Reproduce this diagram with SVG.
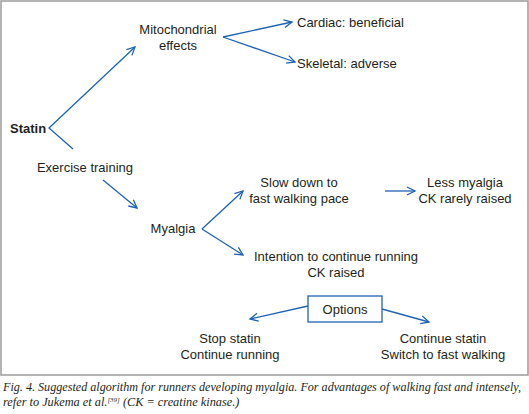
<svg xmlns="http://www.w3.org/2000/svg" width="529" height="414" viewBox="0 0 529 414">
<style>
.t{font-family:"Liberation Sans",Arial,sans-serif;font-size:13px;fill:#231f20;text-anchor:middle}
.l{text-anchor:start}
.b{font-weight:bold}
.c{stroke:#1f63b5;stroke-width:1.3;fill:none}
.cap{font-family:"Liberation Serif","Times New Roman",serif;font-style:italic;font-size:12.3px;fill:#231f20}
</style>
<defs>
<marker id="a" markerUnits="userSpaceOnUse" markerWidth="12" markerHeight="12" refX="9" refY="5" orient="auto">
<path d="M1,1 L9,5 L1,9" fill="none" stroke="#1f63b5" stroke-width="1.3"/>
</marker>
</defs>
<rect x="1" y="1" width="527" height="374" fill="#fff" stroke="#9a9a9a" stroke-width="1.5"/>
<g id="connectors" class="c">
<path d="M73,149 L49,128 L135,47" marker-end="url(#a)"/>
<path d="M223,37 L292,22" marker-end="url(#a)"/>
<path d="M223,37 L295,62" marker-end="url(#a)"/>
<path d="M103,180 L137,208" marker-end="url(#a)"/>
<path d="M202,229 L243,191" marker-end="url(#a)"/>
<path d="M202,229 L243,255" marker-end="url(#a)"/>
<path d="M385,191 L415,191" marker-end="url(#a)"/>
<path d="M308,306 L250,319" marker-end="url(#a)"/>
<path d="M382,309 L429,322" marker-end="url(#a)"/>
</g>
<g id="statin"><text class="t l b" x="10" y="133">Statin</text></g>
<g id="mito"><text class="t" x="178" y="34">Mitochondrial</text><text class="t" x="178" y="50">effects</text></g>
<g id="cardiac"><text class="t l" x="297" y="27">Cardiac: beneficial</text></g>
<g id="skeletal"><text class="t l" x="297" y="68">Skeletal: adverse</text></g>
<g id="exercise"><text class="t" x="85" y="172">Exercise training</text></g>
<g id="myalgia"><text class="t" x="173" y="233">Myalgia</text></g>
<g id="slow"><text class="t" x="299" y="187">Slow down to</text><text class="t" x="299" y="203">fast walking pace</text></g>
<g id="less"><text class="t" x="465" y="187">Less myalgia</text><text class="t" x="465" y="203">CK rarely raised</text></g>
<g id="intention"><text class="t" x="336" y="261">Intention to continue running</text><text class="t" x="336" y="277">CK raised</text></g>
<g id="options"><rect x="308" y="296" width="74" height="26" fill="#fff" stroke="#1f63b5" stroke-width="1.3"/><text class="t" x="345" y="314">Options</text></g>
<g id="stop"><text class="t" x="230" y="343">Stop statin</text><text class="t" x="230" y="359">Continue running</text></g>
<g id="continue"><text class="t" x="443" y="343">Continue statin</text><text class="t" x="443" y="359">Switch to fast walking</text></g>
<g id="caption">
<text class="cap" x="3" y="391" textLength="518" lengthAdjust="spacingAndGlyphs">Fig. 4. Suggested algorithm for runners developing myalgia. For advantages of walking fast and intensely,</text>
<text class="cap" x="3" y="406">refer to Jukema et al.<tspan font-size="7" dy="-4">[39]</tspan><tspan dy="4"> (CK = creatine kinase.)</tspan></text>
</g>
</svg>
